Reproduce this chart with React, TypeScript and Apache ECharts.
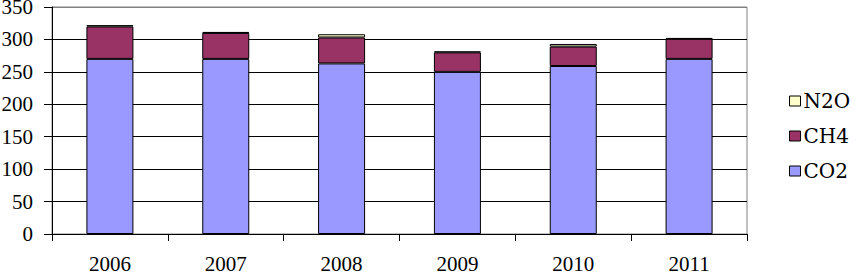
import React, { useEffect, useRef } from "react";
import * as echarts from "echarts";

const categories = ["2006", "2007", "2008", "2009", "2010", "2011"];
const co2 = [270, 270, 263, 250, 259, 270];
const ch4 = [50, 40, 40, 30, 30, 31];
const n2o = [2, 1.5, 5, 1.5, 4, 1];
const yTicks = { min: 0, max: 350, interval: 50 };

const FONT = "Liberation Serif";

export default function App() {
  const ref = useRef<HTMLDivElement>(null);
  useEffect(() => {
    if (!ref.current) return;
    const chart = echarts.init(ref.current, undefined, { renderer: "svg" });
    const barStyle = (color: string) => ({
      color,
      borderColor: "#000",
      borderWidth: 1,
    });
    chart.setOption({
      animation: false,
      backgroundColor: "#fff",
      textStyle: { fontFamily: FONT },
      grid: {
        left: 52,
        right: 109,
        top: 7,
        bottom: 38,
        show: true,
        borderColor: "#808080",
        borderWidth: 1,
        outerBoundsMode: "none",
      },
      legend: {
        orient: "vertical",
        left: 784,
        top: 86,
        itemWidth: 11,
        itemHeight: 10,
        itemGap: 15,
        icon: "rect",
        data: ["N2O", "CH4", "CO2"],
        textStyle: { fontFamily: "DejaVu Serif", fontSize: 20, color: "#000", padding: [0, 0, 0, -2] },
        itemStyle: { borderColor: "#000", borderWidth: 1 },
      },
      xAxis: {
        type: "category",
        data: categories,
        axisLine: { lineStyle: { color: "#000", width: 1 } },
        axisTick: { show: true, length: 7, lineStyle: { color: "#000" } },
        axisLabel: { fontFamily: FONT, fontSize: 21, lineHeight: 14, color: "#000", margin: 23 },
      },
      yAxis: {
        type: "value",
        min: yTicks.min,
        max: yTicks.max,
        interval: yTicks.interval,
        axisLine: { show: true, lineStyle: { color: "#000", width: 1 } },
        axisTick: { show: true, length: 8, lineStyle: { color: "#000" } },
        axisLabel: { fontFamily: FONT, fontSize: 21, lineHeight: 14, color: "#000", margin: 19 },
        splitLine: {
          show: true,
          lineStyle: {
            color: ["#000", "#000", "#000", "#000", "#000", "#000", "#000", "#808080"],
            width: 1,
          },
        },
      },
      series: [
        { name: "CO2", type: "bar", stack: "t", data: co2, barWidth: 47, itemStyle: barStyle("#9999FF") },
        { name: "CH4", type: "bar", stack: "t", data: ch4, barWidth: 47, itemStyle: barStyle("#993366") },
        { name: "N2O", type: "bar", stack: "t", data: n2o, barWidth: 47, itemStyle: barStyle("#FFFFCC") },
      ],
    });
    return () => chart.dispose();
  }, []);
  return (
    <div
      ref={ref}
      style={{ position: "fixed", left: 0, top: 0, width: 856, height: 272 }}
    />
  );
}
